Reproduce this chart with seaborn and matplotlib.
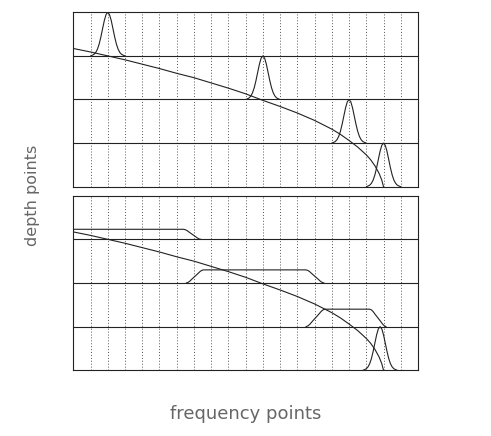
import numpy as np
import pandas as pd
import matplotlib
matplotlib.use("Agg")
import matplotlib.pyplot as plt
import seaborn as sns

# ------------------------------------------
# data
# ------------------------------------------
# the decreasing depth curve (depth in strip units, 0 = top, 4 = bottom)
curve_freq = [0, 1, 2, 3, 4, 5, 6, 7, 8, 9, 10, 11, 12, 13, 14, 15, 15.5,
              16, 16.5, 17, 17.25, 17.5, 17.75, 17.9, 18]
curve_depth = [0.83, 0.91, 1.00, 1.09, 1.19, 1.29, 1.40, 1.50, 1.62, 1.74,
               1.87, 2.02, 2.16, 2.31, 2.48, 2.68, 2.80, 2.94, 3.09, 3.27,
               3.38, 3.52, 3.70, 3.85, 4.0]

# bell shaped bump (offset from centre, relative height)
bump_offset = [-1.0, -0.9, -0.8, -0.7, -0.6, -0.5, -0.4, -0.3, -0.2, -0.1, 0.0,
               0.1, 0.2, 0.3, 0.4, 0.5, 0.6, 0.7, 0.8, 0.9, 1.0]
bump_height = [0.0, 0.015, 0.036, 0.078, 0.154, 0.272, 0.435, 0.626, 0.812, 0.949, 1.0,
               0.949, 0.812, 0.626, 0.435, 0.272, 0.154, 0.078, 0.036, 0.015, 0.0]

# top panel: one bump per strip
top_centres = [2.0, 11.0, 16.0, 18.0]

# bottom panel: flat-topped windows in strips 1-3, bump in strip 4
plat_rise_start = [-1.0, 6.55, 13.5]
plat_rise_end = [-0.5, 7.55, 14.6]
plat_fall_start = [6.4, 13.5, 17.2]
plat_fall_end = [7.4, 14.55, 18.15]
plat_height = [0.23, 0.30, 0.40]
bottom_bump_centre = 17.8

# shape of a window edge (fraction across the edge, relative level)
edge_frac = [0.0, 0.1, 0.2, 0.35, 0.5, 0.65, 0.8, 0.9, 1.0]
edge_level = [0.0, 0.04, 0.13, 0.32, 0.5, 0.68, 0.87, 0.96, 1.0]

N_STRIPS = 4
X_MAX = 20
LINE_COL = "#222222"


def draw_line(ax, x, y):
    df = pd.DataFrame({"x": x, "y": y})
    sns.lineplot(data=df, x="x", y="y", ax=ax, sort=False, estimator=None,
                 color=LINE_COL, lw=0.8, legend=False)


def bump(centre, strip):
    x = np.asarray(bump_offset) + centre
    y = (strip + 1) - np.asarray(bump_height)
    return x, y


def plateau(i):
    frac = np.asarray(edge_frac)
    lev = np.asarray(edge_level)
    rx = plat_rise_start[i] + frac * (plat_rise_end[i] - plat_rise_start[i])
    fx = plat_fall_start[i] + frac * (plat_fall_end[i] - plat_fall_start[i])
    h = np.concatenate([lev, 1 - lev]) * plat_height[i]
    return np.concatenate([rx, fx]), (i + 1) - h


def setup_axes(ax):
    ax.set_xlim(0, X_MAX)
    ax.set_ylim(N_STRIPS, 0)
    ax.set_xticks(range(1, X_MAX))
    ax.set_yticks(range(1, N_STRIPS))
    ax.tick_params(length=0, labelbottom=False, labelleft=False)
    ax.xaxis.grid(True, color="#555555", lw=0.7, ls=(0, (1, 2)))
    ax.yaxis.grid(True, color="#222222", lw=0.8, ls="-")
    ax.set_xlabel("")
    ax.set_ylabel("")
    for sp in ax.spines.values():
        sp.set_visible(True)
        sp.set_color("#222222")
        sp.set_linewidth(0.8)


sns.set_style("white")
plt.rcParams["font.family"] = ["DejaVu Sans"]

fig = plt.figure(figsize=(4.91, 4.36), dpi=100)
ax_top = fig.add_axes([0.1493, 0.5718, 0.702, 0.40])
ax_bot = fig.add_axes([0.1493, 0.1507, 0.702, 0.4005])

# top panel
draw_line(ax_top, curve_freq, curve_depth)
for k, c in enumerate(top_centres):
    bx, by = bump(c, k)
    draw_line(ax_top, bx, by)

# bottom panel
draw_line(ax_bot, curve_freq, curve_depth)
for k in range(len(plat_height)):
    px, py = plateau(k)
    draw_line(ax_bot, px, py)
bx, by = bump(bottom_bump_centre, 3)
draw_line(ax_bot, bx, by)

for ax in (ax_top, ax_bot):
    setup_axes(ax)

fig.text(0.0672, 0.553, "depth points", rotation=90, ha="center", va="center",
         fontsize=11.5, color="#666666")
fig.text(0.500, 0.050, "frequency points", ha="center", va="center",
         fontsize=13, color="#666666")

fig.savefig("out.png", dpi=100)
